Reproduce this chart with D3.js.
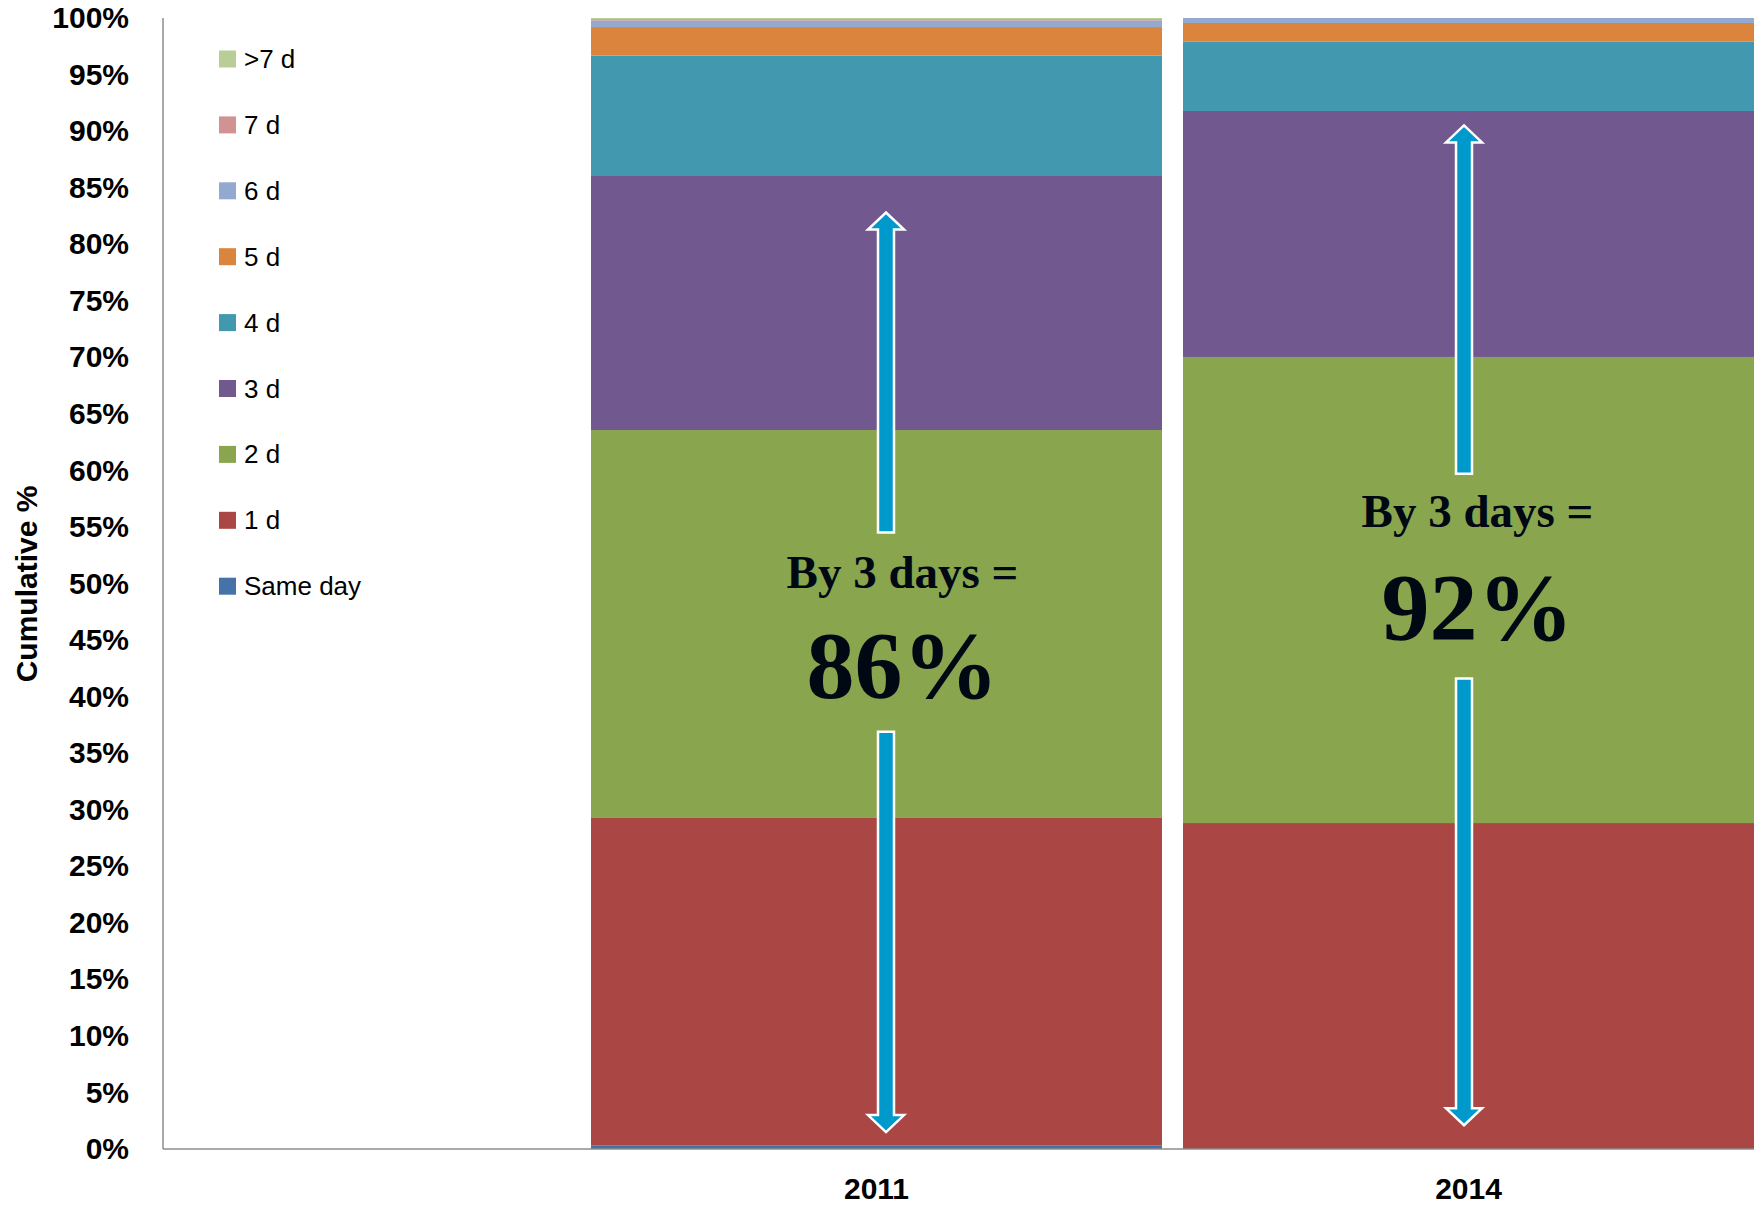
<!DOCTYPE html>
<html>
<head>
<meta charset="utf-8">
<title>Cumulative %</title>
<script src="https://d3js.org/d3.v7.min.js"></script>
<style>
  body { margin: 0; background: #fff; }
  svg { display: block; font-family: 'Liberation Sans', Arial, sans-serif; }
  .axisY text, .axisX text { fill: #000; font-weight: bold; font-size: 30px; }
  .axisY path, .axisX path { display: none; }
  .baseLine { stroke: #8c8c8c; stroke-width: 1.5px; }
  .legend text { fill: #000; font-size: 26px; }
  .note { font-family: 'Liberation Serif', 'Times New Roman', serif; font-weight: bold; fill: #000814; }
  .arrow { fill: #0099cc; stroke: #fff; stroke-width: 2.5px; }
</style>
</head>
<body>
<div id="viz"></div>
<script>
// categories on x
var years = ['2011', '2014'];
// series, stacked from the bottom up
var series = ['Same day', '1 d', '2 d', '3 d', '4 d', '5 d', '6 d', '7 d', '>7 d'];
var colors = ['#4572A7', '#AA4643', '#89A54E', '#71588F', '#4198AF', '#DB843D', '#93A9CF', '#D19392', '#B9CD96'];
// share (%) of each series, one array per year
var values2011 = [0.33, 28.94, 34.30, 22.46, 10.64, 2.53, 0.58, 0.12, 0.10];
var values2014 = [0.00, 28.82, 41.21, 21.75, 6.12, 1.66, 0.44, 0.00, 0.00];
// y ticks
var yTicks = d3.range(0, 101, 5);
// annotation texts
var noteLine1 = ['By 3 days =', 'By 3 days ='];
var noteLine2 = ['86%', '92%'];

// build the table d3.stack wants
var table = years.map(function(yr, i) {
  var vals = i === 0 ? values2011 : values2014;
  var row = { year: yr };
  series.forEach(function(s, j) { row[s] = vals[j]; });
  return row;
});

var W = 1754, H = 1208;
var plotLeft = 163, plotRight = 1754, plotTop = 18, plotBottom = 1149;

var svg = d3.select('#viz').append('svg')
    .attr('width', W)
    .attr('height', H);

var x = d3.scaleBand().domain(years).range([591, plotRight]).paddingInner(0.0355).paddingOuter(0);
var y = d3.scaleLinear().domain([0, 100]).range([plotBottom, plotTop]);
var color = d3.scaleOrdinal().domain(series).range(colors);

var stacked = d3.stack().keys(series)(table);

// bars
svg.append('g').selectAll('g')
  .data(stacked)
  .enter().append('g')
    .attr('fill', function(d) { return color(d.key); })
  .selectAll('rect')
  .data(function(d) { return d; })
  .enter().append('rect')
    .attr('x', function(d) { return x(d.data.year); })
    .attr('y', function(d) { return y(d[1]); })
    .attr('height', function(d) { return y(d[0]) - y(d[1]); })
    .attr('width', x.bandwidth());

// axes
svg.append('g')
    .attr('class', 'axisY')
    .attr('transform', 'translate(' + plotLeft + ',0)')
    .call(d3.axisLeft(y).tickValues(yTicks).tickSize(0).tickPadding(34)
      .tickFormat(function(d) { return d + '%'; }));

svg.append('line')
    .attr('class', 'baseLine')
    .attr('x1', plotLeft).attr('x2', plotLeft)
    .attr('y1', y(100)).attr('y2', y(0));

svg.append('g')
    .attr('class', 'axisX')
    .attr('transform', 'translate(0,' + plotBottom + ')')
    .call(d3.axisBottom(x).tickSize(0).tickPadding(29));

svg.append('line')
    .attr('class', 'baseLine')
    .attr('x1', plotLeft).attr('x2', plotRight)
    .attr('y1', y(0)).attr('y2', y(0));

svg.append('text')
    .attr('transform', 'translate(37,584) rotate(-90)')
    .attr('text-anchor', 'middle')
    .attr('font-weight', 'bold')
    .attr('font-size', 30)
    .text('Cumulative %');

// legend, top row is the last series
var legend = svg.append('g').attr('class', 'legend');
var legendRows = series.slice().reverse();
legendRows.forEach(function(s, i) {
  var cy = 59 + i * 65.9;
  legend.append('rect')
      .attr('x', 219).attr('y', cy - 8.5)
      .attr('width', 17).attr('height', 17)
      .attr('fill', color(s));
  legend.append('text')
      .attr('x', 244).attr('y', cy + 9)
      .text(s);
});

// arrows and notes (layout in % of the y scale, offsets in px from band centre)
var arrowLayout = [
  { dx: 9.5, tip: 82.8, upEnd: 54.5, lowStart: 36.9, bottom: 1.5, textDx: 26, line1: 49.6, line2: 39.9 },
  { dx: -4.5, tip: 90.5, upEnd: 59.7, lowStart: 41.6, bottom: 2.1, textDx: 9, line1: 55.0, line2: 45.0 }
];

function halfArrow(cx, yTip, yEnd) {
  var dir = yEnd > yTip ? 1 : -1;
  var hb = yTip + dir * 17;
  return 'M' + cx + ',' + yTip +
    'L' + (cx + 18) + ',' + hb +
    'L' + (cx + 8) + ',' + hb +
    'L' + (cx + 8) + ',' + yEnd +
    'L' + (cx - 8) + ',' + yEnd +
    'L' + (cx - 8) + ',' + hb +
    'L' + (cx - 18) + ',' + hb + 'Z';
}

years.forEach(function(yr, i) {
  var a = arrowLayout[i];
  var c = x(yr) + x.bandwidth() / 2;
  svg.append('path').attr('class', 'arrow')
      .attr('d', halfArrow(c + a.dx, y(a.tip), y(a.upEnd)));
  svg.append('path').attr('class', 'arrow')
      .attr('d', halfArrow(c + a.dx, y(a.bottom), y(a.lowStart)));
  svg.append('text').attr('class', 'note')
      .attr('x', c + a.textDx).attr('y', y(a.line1))
      .attr('text-anchor', 'middle')
      .attr('font-size', 47)
      .text(noteLine1[i]);
  svg.append('text').attr('class', 'note')
      .attr('x', c + a.textDx).attr('y', y(a.line2))
      .attr('text-anchor', 'middle')
      .attr('font-size', 96)
      .text(noteLine2[i]);
});
</script>
</body>
</html>
